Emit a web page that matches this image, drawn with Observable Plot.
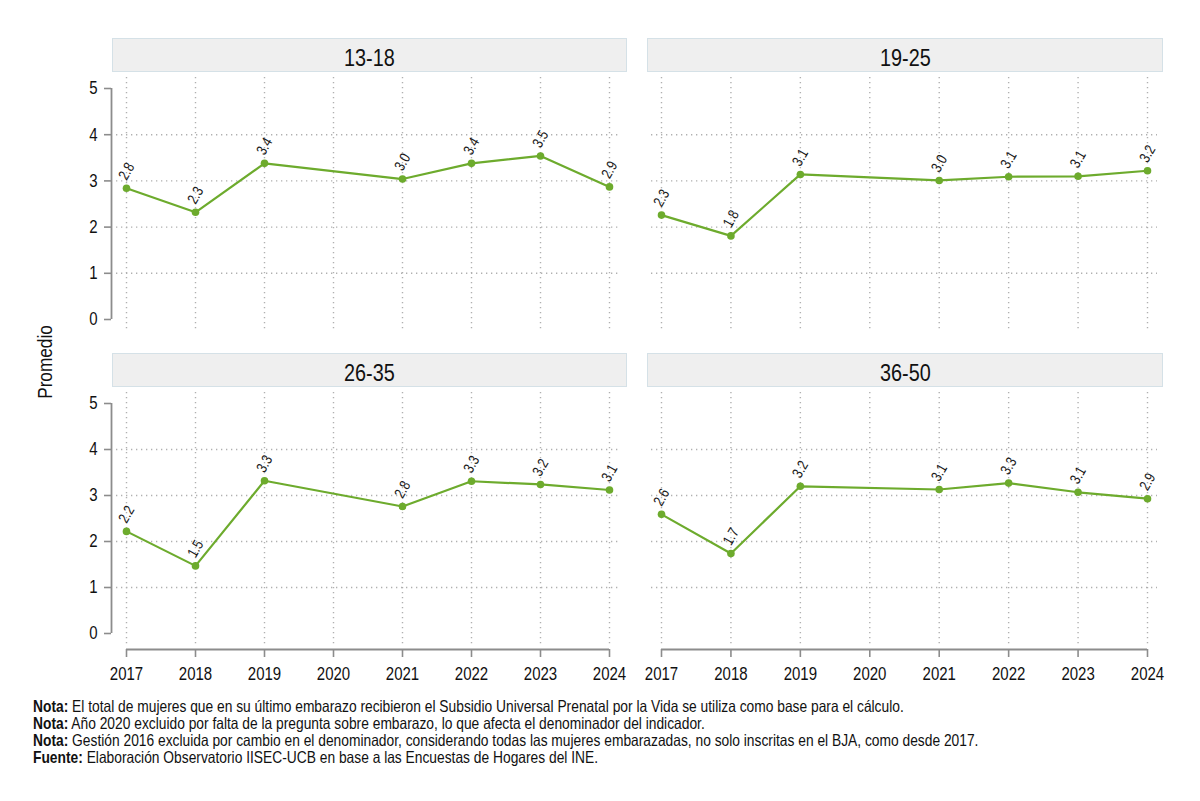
<!DOCTYPE html>
<html><head><meta charset="utf-8">
<script src="https://cdn.jsdelivr.net/npm/d3@7"></script>
<script src="https://cdn.jsdelivr.net/npm/@observablehq/plot@0.6"></script>
<style>
body{margin:0;background:#fff;font-family:"Liberation Sans",Arial,sans-serif;}
#wrap{position:relative;width:1200px;height:801px;overflow:hidden;background:#fff;}
.strip{position:absolute;box-sizing:border-box;background:#efefef;border:1px solid #d5e1e7;height:34px;text-align:center;}
.strip span{display:inline-block;font-size:24.5px;line-height:32px;transform:scaleX(0.81);position:relative;top:3px;color:#111;}
.panel{position:absolute;}
.panel svg{overflow:visible;background:none;}
#ylab{position:absolute;left:45px;top:362px;width:0;height:0;}
#ylab span{position:absolute;left:0;top:0;display:block;font-size:21px;line-height:22px;white-space:nowrap;color:#111;transform:translate(-50%,-50%) rotate(-90deg) scaleX(0.82);}
#foot{position:absolute;left:33px;top:698px;font-size:16.5px;line-height:17px;transform:scaleX(0.836);transform-origin:0 0;white-space:nowrap;color:#111;}
</style></head>
<body><div id="wrap"></div>
<script>
const years = [2017, 2018, 2019, 2021, 2022, 2023, 2024];
const axisYears = [2017, 2018, 2019, 2020, 2021, 2022, 2023, 2024];
const groups = ["13-18", "19-25", "26-35", "36-50"];
const v1318 = [2.84, 2.32, 3.38, 3.04, 3.38, 3.54, 2.87];
const v1925 = [2.26, 1.81, 3.14, 3.01, 3.09, 3.10, 3.22];
const v2635 = [2.22, 1.47, 3.32, 2.76, 3.31, 3.24, 3.12];
const v3650 = [2.59, 1.74, 3.20, 3.13, 3.27, 3.07, 2.93];
const yTicks = [0, 1, 2, 3, 4, 5];
const gridYTicks = [1, 2, 3, 4];
const notes = [
  ["Nota:", " El total de mujeres que en su último embarazo recibieron el Subsidio Universal Prenatal por la Vida se utiliza como base para el cálculo."],
  ["Nota:", " Año 2020 excluido por falta de la pregunta sobre embarazo, lo que afecta el denominador del indicador."],
  ["Nota:", " Gestión 2016 excluida por cambio en el denominador, considerando todas las mujeres embarazadas, no solo inscritas en el BJA, como desde 2017."],
  ["Fuente:", " Elaboración Observatorio IISEC-UCB en base a las Encuestas de Hogares del INE."]
];

const green = "#6dab2d";
const axisGray = "#8c8c8c";
const gridStyle = {stroke: "#b0b0b0", strokeOpacity: 1, strokeDasharray: "1.3,3.7", strokeWidth: 1.4};
const S = 0.81;
const wrap = document.getElementById("wrap");

function squeeze(svg, s) {
  svg.querySelectorAll("text").forEach(t => {
    let tr = t.getAttribute("transform") || "";
    const x = +t.getAttribute("x") || 0, y = +t.getAttribute("y") || 0;
    tr = `${tr} translate(${x},${y}) scale(${s},1) translate(${-x},${-y})`;
    t.setAttribute("transform", tr.trim());
  });
}

function panel(values, o) {
  const data = years.map((y, i) => ({year: y, value: values[i]}));
  const marks = [
    Plot.gridX(axisYears, gridStyle),
    Plot.gridY(gridYTicks, gridStyle),
    Plot.line(data, {x: "year", y: "value", stroke: green, strokeWidth: 2.2}),
    Plot.dot(data, {x: "year", y: "value", r: 3.8, fill: green, stroke: null}),
    Plot.text(data, {x: "year", y: "value", text: d => d.value.toFixed(1), rotate: -60, dy: -17, fontSize: 15, fill: "#1a1a1a"})
  ];
  if (o.showY) {
    marks.push(
      Plot.ruleX([2017], {y1: 0, y2: 5, dx: -15, stroke: axisGray, strokeWidth: 1.8}),
      Plot.axisY(yTicks, {anchor: "left", dx: -5, tickSize: 7, tickPadding: 7, stroke: axisGray, strokeWidth: 1.6, fill: "#111", fontSize: 18.5, label: null, tickFormat: d => String(d)})
    );
  }
  if (o.showX) {
    marks.push(
      Plot.ruleY([0], {x1: 2017, x2: 2024, dy: 16, stroke: axisGray, strokeWidth: 1.8}),
      Plot.axisX(axisYears, {anchor: "bottom", dy: 5, tickSize: 8, tickPadding: 9, stroke: axisGray, strokeWidth: 1.6, fill: "#111", fontSize: 18.5, label: null, tickFormat: d => String(d), lineAnchor: "top"})
    );
  }
  const svg = Plot.plot({
    width: o.width, height: o.height,
    marginLeft: o.mL, marginRight: o.mR, marginTop: o.mT, marginBottom: o.mB,
    style: {fontFamily: '"Liberation Sans", Arial, sans-serif', background: "none", overflow: "visible"},
    x: {domain: [2017, 2024], inset: 10, axis: null},
    y: {domain: [0, 5], inset: 11, axis: null},
    marks
  });
  squeeze(svg, S);
  const div = document.createElement("div");
  div.className = "panel";
  div.style.left = o.left + "px";
  div.style.top = o.top + "px";
  div.appendChild(svg);
  wrap.appendChild(div);
}

function strip(label, left, top, width) {
  const d = document.createElement("div");
  d.className = "strip";
  d.style.left = left + "px"; d.style.top = top + "px"; d.style.width = width + "px";
  const sp = document.createElement("span");
  sp.textContent = label;
  d.appendChild(sp);
  wrap.appendChild(d);
}

strip(groups[0], 112, 38, 515);
strip(groups[1], 647, 38, 516);
strip(groups[2], 112, 353, 515);
strip(groups[3], 647, 353, 516);

panel(v1318, {left: 60, top: 60, width: 580, height: 290, mL: 56, mR: 21, mT: 17, mB: 20, showY: true, showX: false});
panel(v1925, {left: 600, top: 60, width: 580, height: 290, mL: 51, mR: 23, mT: 17, mB: 20, showY: false, showX: false});
panel(v2635, {left: 60, top: 375, width: 580, height: 320, mL: 56, mR: 21, mT: 17, mB: 51, showY: true, showX: true});
panel(v3650, {left: 600, top: 375, width: 580, height: 320, mL: 51, mR: 23, mT: 17, mB: 51, showY: false, showX: true});

const yl = document.createElement("div");
yl.id = "ylab";
const ys = document.createElement("span");
ys.textContent = "Promedio";
yl.appendChild(ys);
wrap.appendChild(yl);

const foot = document.createElement("div");
foot.id = "foot";
notes.forEach(([b, t]) => {
  const line = document.createElement("div");
  const bb = document.createElement("b"); bb.textContent = b;
  line.appendChild(bb);
  line.appendChild(document.createTextNode(t));
  foot.appendChild(line);
});
wrap.appendChild(foot);
</script>
</body></html>
